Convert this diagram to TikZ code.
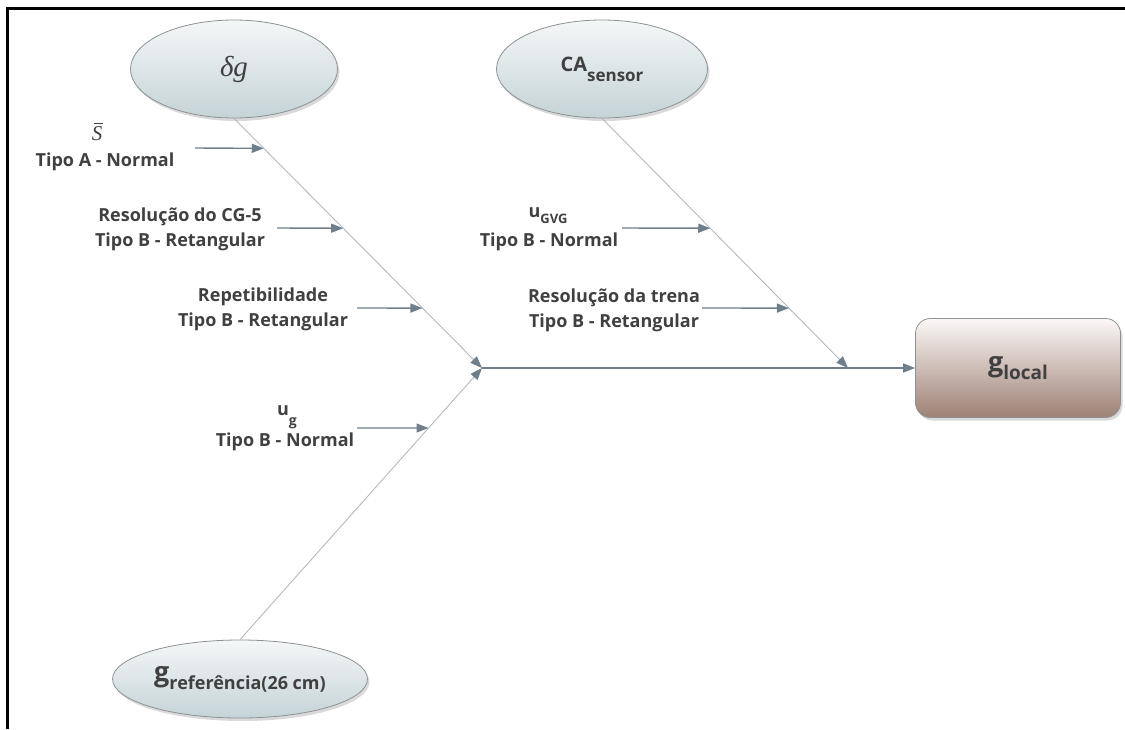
\documentclass[tikz,border=0pt]{standalone}
\usepackage{fontspec}
\setmainfont{Open Sans}
\newfontfamily\seriffont{Liberation Serif}
\usetikzlibrary{arrows.meta,shapes.geometric,shadows,calc}

\definecolor{txt}{HTML}{404040}
\definecolor{slate}{HTML}{6E7F8B}
\definecolor{bonegray}{HTML}{B2B9BD}
\definecolor{ellline}{HTML}{8E9293}
\definecolor{elltop}{HTML}{F4F7F8}
\definecolor{ellbot}{HTML}{C5D3D7}
\definecolor{boxtop}{HTML}{FBF8F7}
\definecolor{boxmid}{HTML}{E2D8D3}
\definecolor{boxbot}{HTML}{9E8174}

\tikzset{
  cause/.style={ellipse, draw=ellline, line width=0.8pt, inner sep=0pt,
    top color=elltop, bottom color=ellbot, text=txt,
    drop shadow={opacity=0.3, shadow xshift=2pt, shadow yshift=-3pt}},
  effect/.style={rectangle, rounded corners=15pt, draw=ellline, line width=0.8pt,
    top color=boxtop, middle color=boxmid, bottom color=boxbot, text=txt,
    minimum width=205pt, minimum height=99pt,
    drop shadow={opacity=0.3, shadow xshift=2pt, shadow yshift=-3pt}},
  lbl/.style={text=txt, align=center, inner sep=0pt,
    font=\fontsize{18}{25}\selectfont\bfseries},
  bone/.style={draw=bonegray, line width=0.9pt},
  tip/.style={-{Triangle[length=12pt,width=9pt]}, draw=slate, line width=1.4pt},
  bonetip/.style={bone, -{Triangle[length=12pt,width=9pt,color=slate]}},
}

\begin{document}
\begin{tikzpicture}[x=1pt,y=-1pt]
\useasboundingbox (0,0) rectangle (1125,729);

% frame lines along the top and left edges
\draw[line width=3pt] (7,729) -- (7,8) -- (1125,8);

% causes and effect
\node[cause, minimum width=207pt, minimum height=98pt] (dg) at (234,69)
  {\seriffont\itshape\fontsize{29}{29}\selectfont δg};
\node[cause, minimum width=211pt, minimum height=98pt] (ca) at (602,69)
  {\bfseries\fontsize{20}{20}\selectfont CA\raisebox{-10pt}{\fontsize{17}{17}\selectfont sensor}};
\node[cause, minimum width=255pt, minimum height=78pt] (gref) at (240,679)
  {\bfseries\fontsize{27}{27}\selectfont g\raisebox{-8pt}{\fontsize{18}{18}\selectfont referência(26 cm)}};
\node[effect] (gl) at (1018,368)
  {\bfseries\fontsize{27}{27}\selectfont g\raisebox{-8pt}{\fontsize{19}{19}\selectfont local}};

% junction of the main bones
\coordinate (J) at (482,368);

% main bones
\draw[bonetip] (dg.south) -- (J);
\draw[bonetip] (gref.north) -- (J);
\draw[bonetip] (ca.south) -- (848,368) coordinate (caend);
\draw[tip, line width=1.6pt] (J) -- (gl.west);

% points where the sub-causes meet the bones
\path (dg.south) -- (J)
  coordinate[pos=0.12] (p1)
  coordinate[pos=0.44] (p2)
  coordinate[pos=0.76] (p3);
\path (gref.north) -- (J) coordinate[pos=0.779] (p4);
\path (ca.south) -- (caend)
  coordinate[pos=0.44] (p5)
  coordinate[pos=0.76] (p6);

% sub-cause labels; the mean value S gets a drawn overbar
\node[text=txt, inner sep=0pt] (l1a) at (97,134)
  {\seriffont\itshape\fontsize{21}{21}\selectfont S};
\draw[txt, line width=1pt] ([xshift=-3pt,yshift=3pt]l1a.north) -- ([xshift=6pt,yshift=3pt]l1a.north);
\node[lbl] (l1b) at (105,162) {Tipo A - Normal};
\node[lbl] (l2) at (180,229) {Resolução do CG-5\\Tipo B - Retangular};
\node[lbl] (l3) at (263,309) {Repetibilidade\\Tipo B - Retangular};
\node[lbl] (l4a) at (287,417) {u\raisebox{-10pt}{\fontsize{14}{14}\selectfont g}};
\node[lbl] (l4b) at (285,442) {Tipo B - Normal};
\node[lbl] (l5a) at (548,216) {u\raisebox{-6pt}{\fontsize{13}{13}\selectfont GVG}};
\node[lbl] (l5b) at (549,242) {Tipo B - Normal};
\node[lbl] (l6) at (614,310) {Resolução da trena\\Tipo B - Retangular};

% arrows from the sub-causes to the bones
\coordinate (t1) at (195,148);
\coordinate (t2) at (277,228);
\coordinate (t3) at (357,308);
\coordinate (t4) at (357,428);
\coordinate (t5) at (622,228);
\coordinate (t6) at (702,308);
\draw[tip] (t1) -- (p1);
\draw[tip] (t2) -- (p2);
\draw[tip] (t3) -- (p3);
\draw[tip] (t4) -- (p4);
\draw[tip] (t5) -- (p5);
\draw[tip] (t6) -- (p6);
\end{tikzpicture}
\end{document}
